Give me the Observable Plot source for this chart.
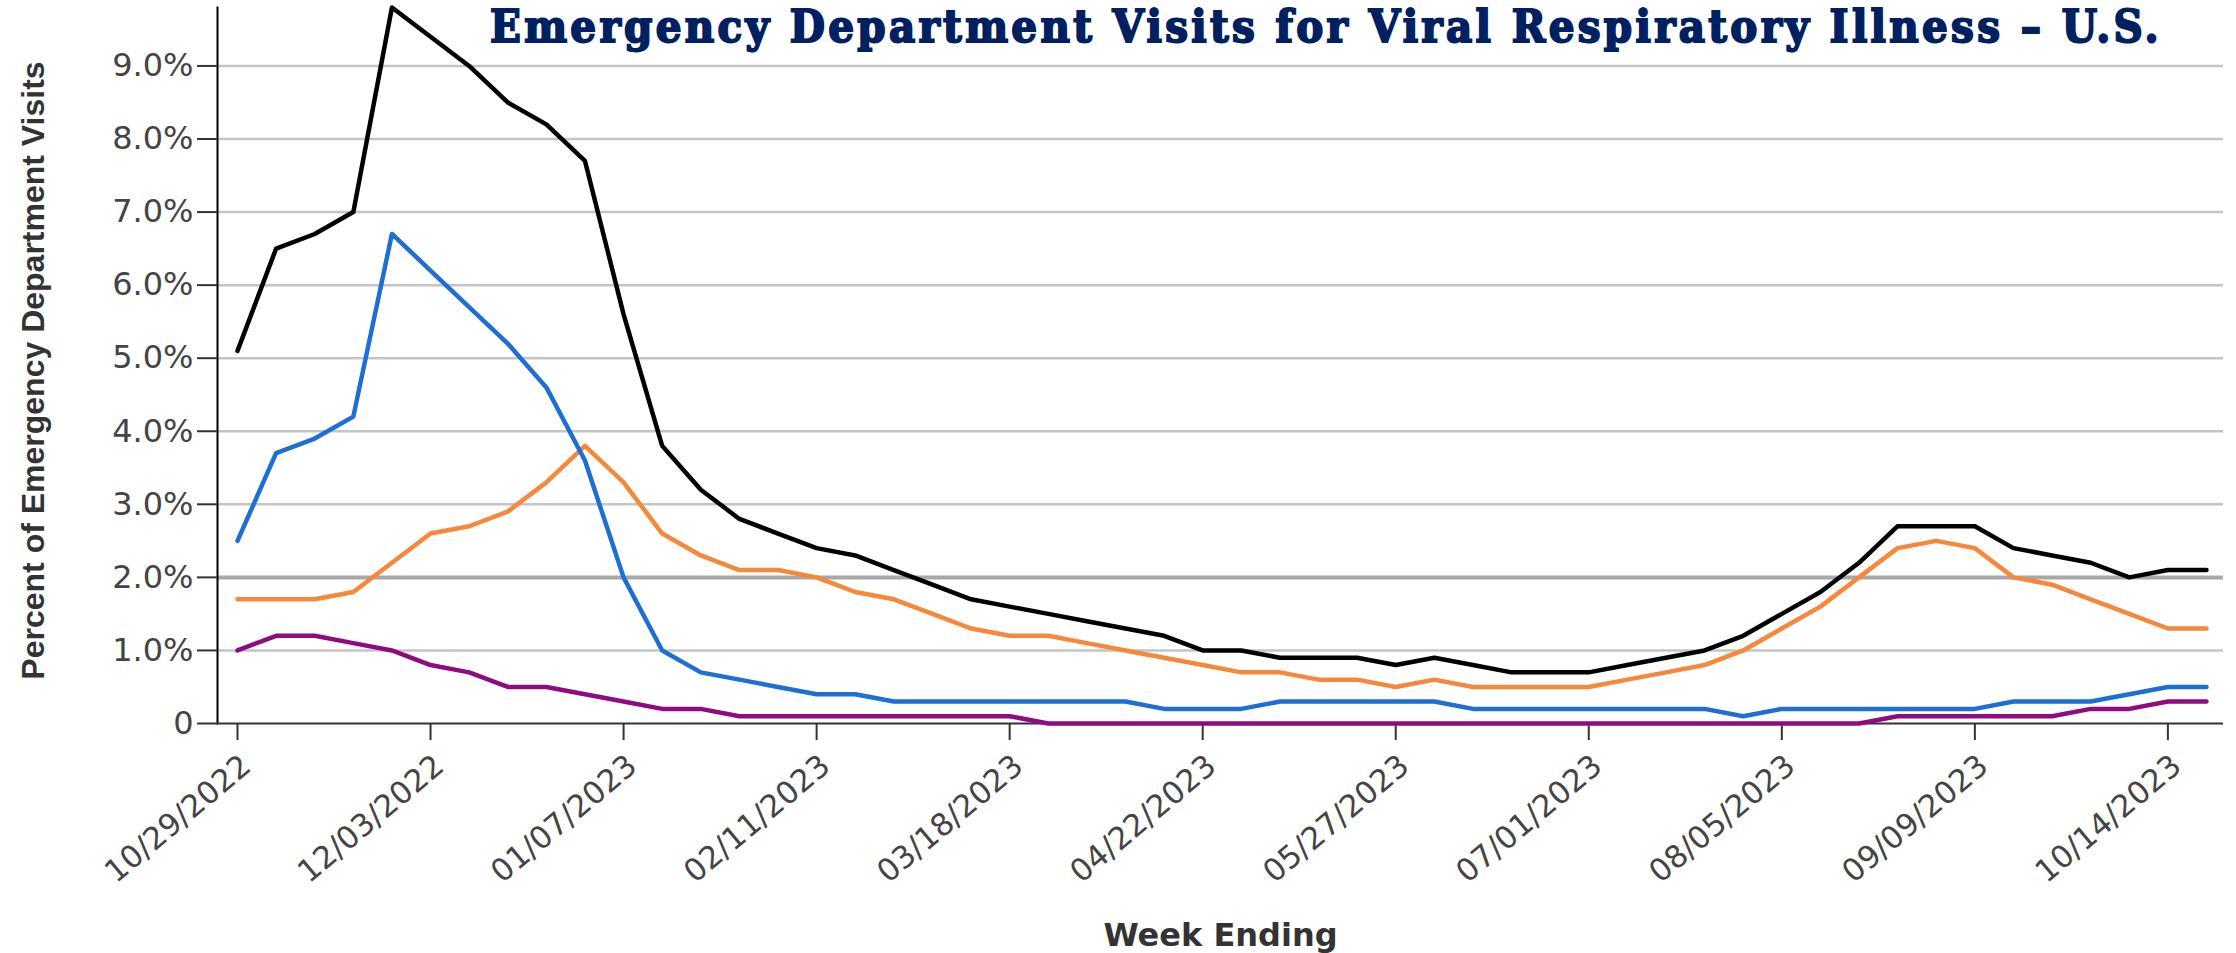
<!DOCTYPE html>
<html>
<head>
<meta charset="utf-8">
<script src="https://cdn.jsdelivr.net/npm/d3@7"></script>
<script src="https://cdn.jsdelivr.net/npm/@observablehq/plot@0.6"></script>
<style>
  html, body { margin: 0; padding: 0; background: #fff; }
  #wrap { position: relative; width: 2236px; height: 953px; background: #fff; }
  #title {
    position: absolute; left: 490px; top: 0px; white-space: nowrap;
    font-family: "DejaVu Serif Condensed", "DejaVu Serif", serif; font-stretch: condensed;
    font-weight: bold; font-size: 45px; line-height: normal; color: #00205f;
    -webkit-text-stroke: 1.9px #00205f;
  }
</style>
</head>
<body>
<div id="wrap">
  <div id="chart"></div>
  <div id="title"></div>
</div>
<script>
// Week ending dates
const weeks = [
  "2022-10-29","2022-11-05","2022-11-12","2022-11-19","2022-11-26","2022-12-03","2022-12-10","2022-12-17","2022-12-24","2022-12-31",
  "2023-01-07","2023-01-14","2023-01-21","2023-01-28","2023-02-04","2023-02-11","2023-02-18","2023-02-25","2023-03-04","2023-03-11",
  "2023-03-18","2023-03-25","2023-04-01","2023-04-08","2023-04-15","2023-04-22","2023-04-29","2023-05-06","2023-05-13","2023-05-20",
  "2023-05-27","2023-06-03","2023-06-10","2023-06-17","2023-06-24","2023-07-01","2023-07-08","2023-07-15","2023-07-22","2023-07-29",
  "2023-08-05","2023-08-12","2023-08-19","2023-08-26","2023-09-02","2023-09-09","2023-09-16","2023-09-23","2023-09-30","2023-10-07",
  "2023-10-14","2023-10-21"
];
// Percent of ED visits
const combined = [
  5.1,6.5,6.7,7.0,9.8,9.4,9.0,8.5,8.2,7.7,
  5.6,3.8,3.2,2.8,2.6,2.4,2.3,2.1,1.9,1.7,
  1.6,1.5,1.4,1.3,1.2,1.0,1.0,0.9,0.9,0.9,
  0.8,0.9,0.8,0.7,0.7,0.7,0.8,0.9,1.0,1.2,
  1.5,1.8,2.2,2.7,2.7,2.7,2.4,2.3,2.2,2.0,
  2.1,2.1
];
const covid = [
  1.7,1.7,1.7,1.8,2.2,2.6,2.7,2.9,3.3,3.8,
  3.3,2.6,2.3,2.1,2.1,2.0,1.8,1.7,1.5,1.3,
  1.2,1.2,1.1,1.0,0.9,0.8,0.7,0.7,0.6,0.6,
  0.5,0.6,0.5,0.5,0.5,0.5,0.6,0.7,0.8,1.0,
  1.3,1.6,2.0,2.4,2.5,2.4,2.0,1.9,1.7,1.5,
  1.3,1.3
];
const influenza = [
  2.5,3.7,3.9,4.2,6.7,6.2,5.7,5.2,4.6,3.6,
  2.0,1.0,0.7,0.6,0.5,0.4,0.4,0.3,0.3,0.3,
  0.3,0.3,0.3,0.3,0.2,0.2,0.2,0.3,0.3,0.3,
  0.3,0.3,0.2,0.2,0.2,0.2,0.2,0.2,0.2,0.1,
  0.2,0.2,0.2,0.2,0.2,0.2,0.3,0.3,0.3,0.4,
  0.5,0.5
];
const rsv = [
  1.0,1.2,1.2,1.1,1.0,0.8,0.7,0.5,0.5,0.4,
  0.3,0.2,0.2,0.1,0.1,0.1,0.1,0.1,0.1,0.1,
  0.1,0.0,0.0,0.0,0.0,0.0,0.0,0.0,0.0,0.0,
  0.0,0.0,0.0,0.0,0.0,0.0,0.0,0.0,0.0,0.0,
  0.0,0.0,0.0,0.1,0.1,0.1,0.1,0.1,0.2,0.2,
  0.3,0.3
];
const seriesNames = ["RSV", "COVID-19", "Influenza", "Combined"];
const seriesValues = [rsv, covid, influenza, combined];
const seriesColors = ["#8f0c80", "#f5883a", "#1e6fd4", "#000000"];

const yTicks = [0, 1, 2, 3, 4, 5, 6, 7, 8, 9];
const xTickLabels = ["10/29/2022","12/03/2022","01/07/2023","02/11/2023","03/18/2023","04/22/2023","05/27/2023","07/01/2023","08/05/2023","09/09/2023","10/14/2023"];

const titleText = "Emergency Department Visits for Viral Respiratory Illness – U.S.";
const yLabel = "Percent of Emergency Department Visits";
const xLabel = "Week Ending";

const parseISO = d3.utcParse("%Y-%m-%d");
const parseTick = d3.utcParse("%m/%d/%Y");
const rows = [];
seriesValues.forEach((vals, i) => vals.forEach((v, j) => rows.push({date: parseISO(weeks[j]), value: v, series: seriesNames[i]})));
const xTickDates = xTickLabels.map(parseTick);
const xDomain = [parseISO(weeks[0]), parseISO(weeks[weeks.length - 1])];

const chart = Plot.plot({
  width: 2236,
  height: 953,
  marginLeft: 217,
  marginRight: 13,
  marginTop: 7,
  marginBottom: 230,
  style: {fontFamily: "DejaVu Sans, sans-serif", background: "#fff", overflow: "visible"},
  x: {type: "utc", domain: xDomain, insetLeft: 20, insetRight: 17},
  y: {domain: [0, 9.8]},
  color: {domain: seriesNames, range: seriesColors},
  marks: [
    Plot.ruleY(yTicks.filter(d => d > 0 && d !== 2), {y: d => d, stroke: "#c4c4c4", strokeWidth: 2.5}),
    Plot.ruleY([2], {y: d => d, stroke: "#a8a8a8", strokeWidth: 4}),
    Plot.frame({anchor: "left", stroke: "#000", strokeWidth: 2}),
    Plot.axisY({ticks: yTicks, tickSize: 20, tickPadding: 4, strokeWidth: 2, stroke: "#333", fill: "#444",
      fontSize: 32, label: null, tickFormat: d => d === 0 ? "0" : d.toFixed(1) + "%"}),
    Plot.axisX({ticks: xTickDates, tickSize: 17, strokeWidth: 2, stroke: "#333", tickFormat: () => "", label: null}),
    Plot.ruleY([0], {y: d => d, stroke: "#333", strokeWidth: 2}),
    Plot.lineY(rows, {x: "date", y: "value", z: "series", stroke: "series", strokeWidth: 4.5}),
    Plot.text(xTickDates, {x: d => d, frameAnchor: "bottom", text: (d, i) => xTickLabels[i],
      rotate: -40, textAnchor: "end", lineAnchor: "middle", dx: 9, dy: 38, fontSize: 31, fill: "#444"}),
    Plot.text([xLabel], {frameAnchor: "bottom", text: d => d, dy: 212, textAnchor: "middle", lineAnchor: "middle",
      fontSize: 32, fontWeight: "bold", fill: "#333"}),
    Plot.text([yLabel], {frameAnchor: "left", text: d => d, rotate: -90, dx: -184, dy: 5,
      textAnchor: "middle", lineAnchor: "middle",
      fontSize: 32, fontWeight: "bold", fill: "#333", fontFamily: "Liberation Sans, Arial, sans-serif"})
  ]
});
document.getElementById("chart").appendChild(chart);

const t = document.getElementById("title");
t.textContent = titleText;
t.style.letterSpacing = "0px";
const w0 = t.getBoundingClientRect().width;
t.style.letterSpacing = ((1672 - w0) / titleText.length) + "px";
</script>
</body>
</html>
